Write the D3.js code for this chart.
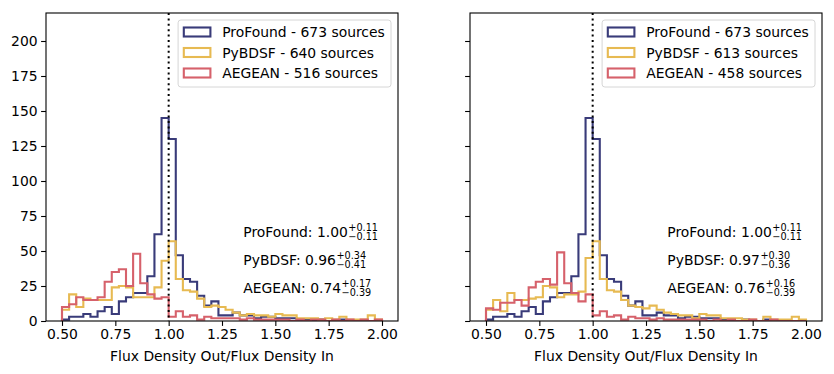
<!DOCTYPE html>
<html lang="en">
<head>
<meta charset="UTF-8">
<title>Flux Density Out/Flux Density In</title>
<style>
  body { margin: 0; background: #fff; }
  svg text { font-family: "DejaVu Sans", sans-serif; fill: #000; }
</style>
</head>
<body>
<svg id="chart" width="834" height="374"></svg>
<script src="https://cdn.jsdelivr.net/npm/d3@7"></script>
<script>
// histogram bins: 45 bins between 0.5 and 2.0
const binLo = 0.5, binHi = 2.0, nBins = 45;
const xTicks = [0.5, 0.75, 1.0, 1.25, 1.5, 1.75, 2.0];
const yTicks = [0, 25, 50, 75, 100, 125, 150, 175, 200];
const methods = ["ProFound", "PyBDSF", "AEGEAN"];
const colors = ["#393b79", "#e7ba52", "#d6616b"];

// left panel counts
const profoundL = [1, 3, 3, 5, 3, 7, 10, 5, 14, 17, 20, 20, 32, 62, 145, 130, 47, 30, 28, 18, 11, 14, 4, 4, 6, 4, 4, 2, 3, 3, 2, 2, 2, 1, 1, 0, 1, 0, 0, 1, 0, 0, 0, 0, 0];
const pybdsfL = [8, 19, 10, 16, 15, 15, 15, 24, 25, 24, 17, 17, 17, 24, 43, 57, 30, 22, 21, 16, 10, 11, 10, 8, 6, 4, 5, 4, 4, 3, 5, 4, 4, 2, 2, 2, 1, 2, 1, 3, 1, 1, 1, 4, 1];
const aegeanL = [10, 12, 17, 15, 15, 17, 28, 35, 37, 25, 48, 27, 19, 16, 17, 3, 7, 3, 4, 1, 3, 2, 2, 2, 2, 1, 2, 1, 1, 1, 1, 1, 0, 1, 0, 1, 1, 0, 1, 0, 1, 0, 1, 0, 1];
// right panel counts
const profoundR = profoundL;
const pybdsfR = [8, 15, 7, 20, 15, 15, 16, 17, 25, 24, 17, 19, 19, 21, 45, 57, 30, 22, 21, 15, 11, 10, 9, 11, 8, 6, 5, 4, 4, 2, 5, 4, 4, 2, 2, 2, 1, 1, 0, 3, 1, 1, 1, 3, 1];
const aegeanR = [9, 8, 13, 13, 15, 11, 24, 28, 30, 26, 49, 27, 20, 14, 19, 4, 7, 3, 4, 1, 3, 2, 2, 1, 2, 1, 1, 1, 1, 1, 1, 0, 1, 0, 1, 0, 0, 1, 0, 0, 1, 0, 0, 0, 0];

const sourcesL = [673, 640, 516];
const sourcesR = [673, 613, 458];
// median ratio with upper / lower errors
const statsL = [["1.00", "+0.11", "\u22120.11"], ["0.96", "+0.34", "\u22120.41"], ["0.74", "+0.17", "\u22120.39"]];
const statsR = [["1.00", "+0.11", "\u22120.11"], ["0.97", "+0.30", "\u22120.36"], ["0.76", "+0.16", "\u22120.39"]];
const statsY = [60, 40, 20];

const panels = [
  {left: 46, series: [profoundL, pybdsfL, aegeanL], sources: sourcesL, stats: statsL, yLabels: true},
  {left: 470, series: [profoundR, pybdsfR, aegeanR], sources: sourcesR, stats: statsR, yLabels: false}
];

const W = 352, plotTop = 13, plotBottom = 321, fs = 13.9;
const edges = d3.range(nBins + 1).map(i => binLo + i * (binHi - binLo) / nBins);
const svg = d3.select("#chart");

panels.forEach((p, pi) => {
  const x = d3.scaleLinear().domain([0.425, 2.075]).range([p.left, p.left + W]);
  const y = d3.scaleLinear().domain([0, 220]).range([plotBottom, plotTop]);
  const g = svg.append("g");

  g.append("clipPath").attr("id", "clip" + pi)
    .append("rect").attr("x", p.left).attr("y", plotTop).attr("width", W).attr("height", plotBottom - plotTop);

  const line = d3.line().x(d => x(d[0])).y(d => y(d[1]));
  p.series.forEach((vals, si) => {
    const pts = [[edges[0], 0]];
    vals.forEach((v, i) => { pts.push([edges[i], v]); pts.push([edges[i + 1], v]); });
    pts.push([edges[nBins], 0]);
    g.append("path").attr("d", line(pts))
      .attr("clip-path", `url(#clip${pi})`)
      .attr("fill", "none").attr("stroke", colors[si]).attr("stroke-width", 2.1)
      .attr("stroke-linejoin", "miter");
  });

  // reference line at ratio 1
  g.append("line").attr("x1", x(1)).attr("x2", x(1)).attr("y1", plotTop).attr("y2", plotBottom)
    .attr("stroke", "#000").attr("stroke-width", 2).attr("stroke-dasharray", "2,3.4");

  // axes
  const xAxis = d3.axisBottom(x).tickValues(xTicks).tickFormat(d3.format(".2f")).tickSize(4.9).tickPadding(3.5);
  const gx = g.append("g").attr("transform", `translate(0,${plotBottom})`).call(xAxis);
  const yAxis = d3.axisLeft(y).tickValues(yTicks).tickSize(4.9).tickPadding(3.5)
    .tickFormat(p.yLabels ? d3.format("d") : () => "");
  const gy = g.append("g").attr("transform", `translate(${p.left},0)`).call(yAxis);
  [gx, gy].forEach(a => {
    a.select(".domain").remove();
    a.selectAll("line").attr("stroke", "#000").attr("stroke-width", 1.1);
    a.selectAll("text").attr("font-size", fs).attr("font-family", "DejaVu Sans").attr("fill", "#000");
  });

  g.append("rect").attr("x", p.left).attr("y", plotTop).attr("width", W).attr("height", plotBottom - plotTop)
    .attr("fill", "none").attr("stroke", "#000").attr("stroke-width", 1.1);

  g.append("text").attr("x", p.left + W / 2).attr("y", 361).attr("text-anchor", "middle")
    .attr("font-size", fs).text("Flux Density Out/Flux Density In");

  // median annotations
  p.stats.forEach((s, i) => {
    const bx = x(1.35), by = y(statsY[i]);
    const t = g.append("text").attr("x", bx).attr("y", by).attr("font-size", fs)
      .text(`${methods[i]}: ${s[0]}`);
    const len = t.node().getComputedTextLength();
    g.append("text").attr("x", bx + len + 0.5).attr("y", by - 6.5).attr("font-size", 9.7).text(s[1]);
    g.append("text").attr("x", bx + len + 0.5).attr("y", by + 2.8).attr("font-size", 9.7).text(s[2]);
  });

  // legend
  const lg = g.append("g");
  const labels = methods.map((m, i) => `${m} - ${p.sources[i]} sources`);
  const texts = labels.map((l, i) => lg.append("text").attr("font-size", fs).text(l));
  const tw = d3.max(texts, t => t.node().getComputedTextLength());
  const lw = 5.6 + 28 + 11.1 + tw + 5.6;
  const lx = p.left + W - 7 - lw, ly = plotTop + 7;
  lg.insert("rect", "text").attr("x", lx).attr("y", ly).attr("width", lw).attr("height", 67)
    .attr("rx", 2.8).attr("fill", "#fff").attr("fill-opacity", 0.8)
    .attr("stroke", "#d6d6d6").attr("stroke-width", 1);
  texts.forEach((t, i) => {
    const cy = ly + 12.3 + i * 20.5;
    lg.append("rect").attr("x", lx + 5.7).attr("y", cy - 4.8).attr("width", 26.6).attr("height", 9)
      .attr("fill", "none").attr("stroke", colors[i]).attr("stroke-width", 2.1);
    t.attr("x", lx + 5.6 + 28 + 10.5).attr("y", cy + 5);
  });
});
</script>
</body>
</html>
